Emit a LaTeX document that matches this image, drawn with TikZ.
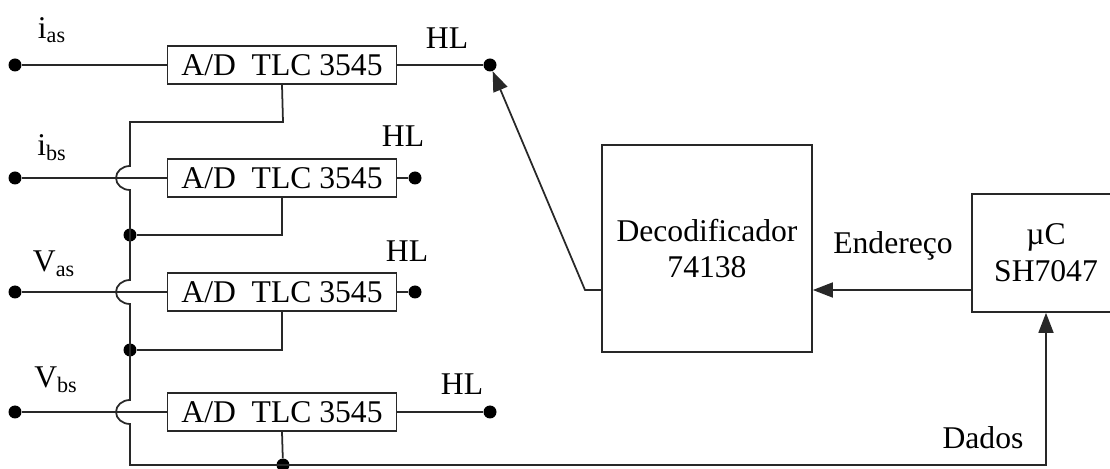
\documentclass[tikz,border=0pt]{standalone}
\usepackage{fontspec}
\setmainfont{Liberation Serif}
\usetikzlibrary{arrows.meta, positioning, calc}
\definecolor{wirec}{RGB}{40,40,40}

\begin{document}
\begin{tikzpicture}[
          x=0.02cm, y=-0.02cm,
          font=\fontsize{18}{21}\selectfont,
          adbox/.style={rectangle, draw=wirec, line width=1pt,
                        minimum width=4.58cm, minimum height=0.76cm,
                        inner sep=0pt, align=center},
          blk/.style={rectangle, draw=wirec, line width=1pt,
                      inner sep=0pt, align=center},
          wire/.style={draw=wirec, line width=1pt},
          arr/.style={wire, -{Triangle[length=0.4cm, width=0.3cm]}},
          dot/.style={circle, fill=black, inner sep=0pt, minimum size=0.26cm},
          lbl/.style={inner sep=0pt}
        ]
        \clip (0,0) rectangle (1110,469);

        % converters
        \node[adbox] (adA) at (282,65)  {A/D\ \ TLC 3545};
        \node[adbox] (adB) at (282,178) {A/D\ \ TLC 3545};
        \node[adbox] (adC) at (282,292) {A/D\ \ TLC 3545};
        \node[adbox] (adD) at (282,412) {A/D\ \ TLC 3545};

        % inputs
        \node[dot] (ia) at (15,65)  {};
        \node[dot] (ib) at (15,178) {};
        \node[dot] (va) at (15,292) {};
        \node[dot] (vb) at (15,412) {};
        \node[lbl] (tia) at (52,30)  {i\textsubscript{as}};
        \node[lbl] (tib) at (52,148) {i\textsubscript{bs}};
        \node[lbl] (tva) at (54,264) {V\textsubscript{as}};
        \node[lbl] (tvb) at (56,380) {V\textsubscript{bs}};

        % HL outputs
        \node[dot] (ha) at (490,65)  {};
        \node[dot] (hb) at (415,178) {};
        \node[dot] (hc) at (415,292) {};
        \node[dot] (hd) at (490,412) {};
        \node[lbl] (tha) at (447,38)  {HL};
        \node[lbl] (thb) at (403,136) {HL};
        \node[lbl] (thc) at (407,251) {HL};
        \node[lbl] (thd) at (462,384) {HL};

        % junctions
        \node[dot] (ja) at (130,235) {};
        \node[dot] (jb) at (130,350) {};
        \node[dot] (jc) at (283,465) {};

        % decoder and controller
        \node[blk, minimum width=4.2cm, minimum height=4.14cm] (dec) at (707,248.5)
              {Decodificador\\74138};
        \node[blk, minimum width=2.96cm, minimum height=2.36cm] (mu) at (1046,253)
              {\textmu C\\SH7047};
        \coordinate (addr) at (972,290);
        \node[lbl] (tend) at (893,246) {Endereço};
        \node[lbl] (tdad) at (983,438) {Dados};

        \draw[wire] (ia) -- (adA);
        \draw[wire] (ib) -- (adB);
        \draw[wire] (va) -- (adC);
        \draw[wire] (vb) -- (adD);
        \draw[wire] (adA) -- (ha);
        \draw[wire] (adB) -- (hb);
        \draw[wire] (adC) -- (hc);
        \draw[wire] (adD) -- (hd);

        % bus
        \draw[arr] (adA.south) -- (283,122) -- (130,122) -- (130,166)
              arc[start angle=90, end angle=270, x radius=0.28cm, y radius=0.24cm]
              -- (130,280)
              arc[start angle=90, end angle=270, x radius=0.28cm, y radius=0.24cm]
              -- (130,400)
              arc[start angle=90, end angle=270, x radius=0.28cm, y radius=0.24cm]
              -- (130,465) -- (mu.south |- jc) -- (mu.south);
        \draw[wire] (adB.south) |- (ja);
        \draw[wire] (adC.south) |- (jb);
        \draw[wire] (adD.south) -- (jc);

        \draw[arr] (addr) -- (dec.east |- addr);
        \draw[arr] (dec.west |- addr) -- (585,290) -- (ha);
      \end{tikzpicture}
\end{document}
